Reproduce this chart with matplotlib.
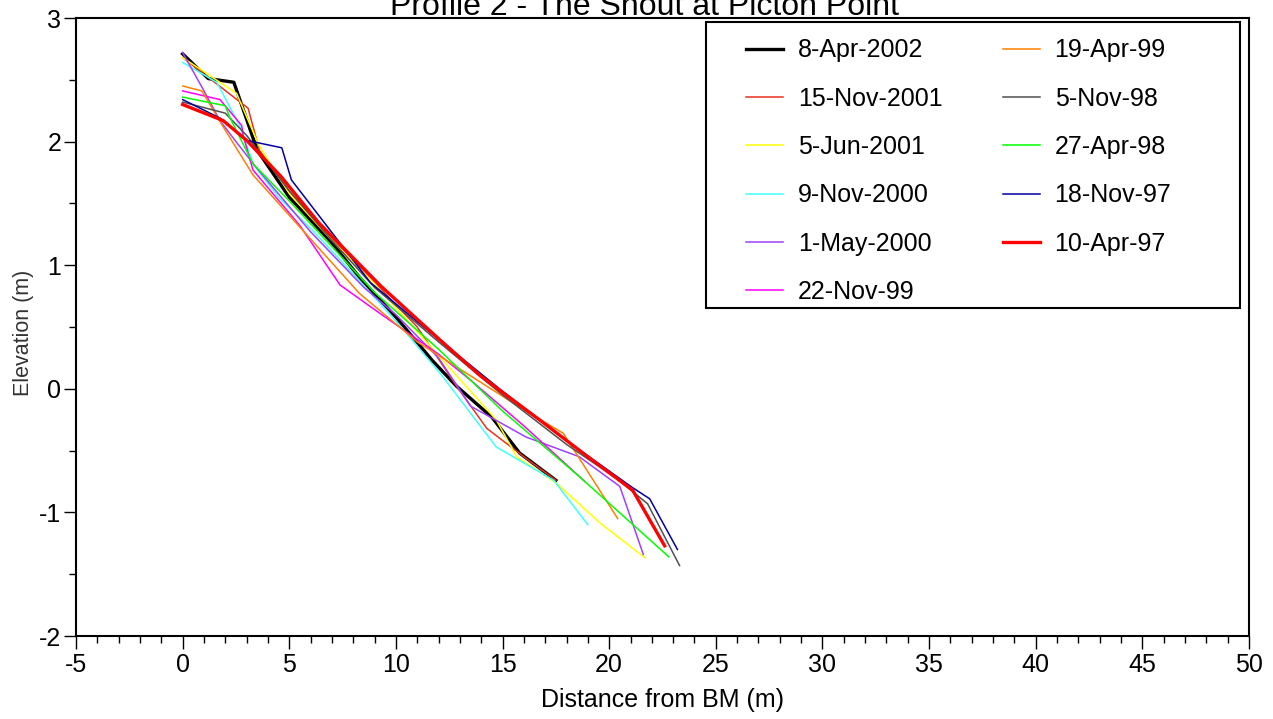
import numpy as np
import matplotlib
matplotlib.use("Agg")
import matplotlib.pyplot as plt
from matplotlib.ticker import MultipleLocator
from matplotlib.patches import Rectangle

plt.rcParams['font.family'] = ['Liberation Sans', 'DejaVu Sans']
plt.rcParams['axes.unicode_minus'] = False

# survey profiles: distance (m), elevation (m)
labels = ['8-Apr-2002', '15-Nov-2001', '5-Jun-2001', '9-Nov-2000', '1-May-2000',
          '22-Nov-99', '19-Apr-99', '5-Nov-98', '27-Apr-98', '18-Nov-97', '10-Apr-97']

x_apr02 = [0, 1.2, 2.4, 3.5, 5.0, 7.0, 8.3, 10.0, 11.7, 12.85, 14.5, 15.8, 17.5]
z_apr02 = [2.71, 2.51, 2.48, 1.93, 1.55, 1.18, 0.90, 0.58, 0.23, 0.02, -0.23, -0.52, -0.74]

x_nov01 = [0, 3.07, 3.6, 5.0, 7.0, 9.0, 11.0, 12.85, 14.26, 16.0, 17.5]
z_nov01 = [2.68, 2.27, 1.93, 1.60, 1.22, 0.86, 0.50, 0.02, -0.32, -0.55, -0.74]

x_jun01 = [0, 2.53, 3.6, 5.0, 7.0, 9.0, 12.2, 14.7, 15.66, 17.5, 19.6, 21.7]
z_jun01 = [2.68, 2.39, 1.96, 1.58, 1.20, 0.85, 0.23, -0.25, -0.55, -0.76, -1.09, -1.37]

x_nov00 = [0, 1.6, 2.7, 3.3, 4.5, 6.1, 8.0, 10.2, 12.1, 14.7, 17.4, 19.0]
z_nov00 = [2.64, 2.48, 2.12, 1.82, 1.55, 1.28, 0.93, 0.51, 0.12, -0.47, -0.74, -1.10]

x_may00 = [0, 0.97, 1.75, 2.5, 3.5, 6.0, 8.5, 10.0, 12.0, 13.5, 16.1, 18.6, 20.5, 21.6]
z_may00 = [2.72, 2.42, 2.17, 2.00, 1.78, 1.27, 0.82, 0.60, 0.25, -0.14, -0.39, -0.55, -0.79, -1.34]

x_nov99 = [0, 1.75, 2.77, 2.85, 3.3, 5.5, 7.38, 9.25, 12.0, 13.5, 16.0, 18.86]
z_nov99 = [2.41, 2.34, 2.13, 2.04, 1.77, 1.32, 0.84, 0.61, 0.28, 0.07, -0.30, -0.75]

x_apr99 = [0, 0.9, 1.9, 3.3, 8.3, 11.0, 14.0, 16.0, 17.85, 20.4]
z_apr99 = [2.45, 2.41, 2.12, 1.73, 0.77, 0.38, 0.05, -0.17, -0.36, -1.05]

x_nov98 = [0, 2.0, 3.0, 5.0, 7.0, 9.0, 12.0, 15.0, 18.0, 20.3, 21.8, 23.3]
z_nov98 = [2.32, 2.23, 2.05, 1.60, 1.20, 0.82, 0.38, -0.05, -0.45, -0.72, -0.93, -1.43]

x_apr98 = [0, 2.0, 2.2, 3.3, 5.0, 7.0, 9.0, 12.0, 15.0, 18.6, 22.8]
z_apr98 = [2.36, 2.29, 2.20, 1.82, 1.52, 1.15, 0.78, 0.32, -0.18, -0.71, -1.36]

x_nov97 = [0, 1.75, 3.0, 4.65, 5.1, 6.44, 8.8, 12.0, 15.0, 18.0, 21.1, 21.9, 23.2]
z_nov97 = [2.34, 2.19, 2.01, 1.95, 1.69, 1.39, 0.86, 0.40, -0.02, -0.42, -0.80, -0.89, -1.30]

x_apr97 = [0, 1.9, 3.0, 4.6, 6.4, 9.3, 12.1, 14.0, 16.8, 19.0, 21.1, 22.6]
z_apr97 = [2.30, 2.17, 2.01, 1.72, 1.34, 0.83, 0.39, 0.10, -0.26, -0.55, -0.82, -1.27]

xs = [x_apr02, x_nov01, x_jun01, x_nov00, x_may00, x_nov99, x_apr99, x_nov98, x_apr98, x_nov97, x_apr97]
zs = [z_apr02, z_nov01, z_jun01, z_nov00, z_may00, z_nov99, z_apr99, z_nov98, z_apr98, z_nov97, z_apr97]
colors = ['#000000', '#e8321e', '#ffff00', '#40ffff', '#a040ff', '#ff00ff',
          '#ff8000', '#505050', '#00ff00', '#0000a0', '#ff0000']
widths = [2.4, 1.1, 1.1, 1.1, 1.1, 1.1, 1.1, 1.1, 1.1, 1.1, 2.4]

W, H = 1273, 719
fig = plt.figure(figsize=(W/100, H/100), dpi=100)
ax = fig.add_axes([76/W, 1 - 636/H, (1249-76)/W, (636-18)/H])

for x, z, c, w, lab in zip(xs, zs, colors, widths, labels):
    ax.plot(x, z, color=c, lw=w, label=lab)

ax.set_xlim(-5, 50)
ax.set_ylim(-2, 3)
ax.xaxis.set_major_locator(MultipleLocator(5))
ax.xaxis.set_minor_locator(MultipleLocator(1))
ax.yaxis.set_major_locator(MultipleLocator(1))
ax.yaxis.set_minor_locator(MultipleLocator(0.5))
ax.tick_params(which='major', length=9, width=1, labelsize=18, colors='black', pad=3)
ax.tick_params(which='minor', length=5, width=1)
ax.tick_params(axis='y', which='major', pad=1.5)
for s in ax.spines.values():
    s.set_linewidth(1.5)

ax.set_xlabel('Distance from BM (m)', fontsize=18, labelpad=8)
ax.set_ylabel('Elevation (m)', fontsize=15.5, color='#333333')
ax.yaxis.set_label_coords(-0.036, 0.49)

fig.text(645/W, 1 - 15/H, 'Profile 2 - The Shout at Picton Point',
         ha='center', va='baseline', fontsize=23)

# legend box
box = Rectangle((706/W, 1 - 308/H), 534/W, 286/H, transform=fig.transFigure,
                facecolor='white', edgecolor='black', lw=1.5, zorder=4, clip_on=False)
ax.add_patch(box)

leg = ax.legend(ncol=2, loc='upper left', bbox_to_anchor=(746/W, 1 - 38.5/H),
                bbox_transform=fig.transFigure, fontsize=18, frameon=False,
                borderpad=0, borderaxespad=0, handlelength=1.48, handletextpad=0.6,
                columnspacing=2.4, labelspacing=0.97)
leg.set_zorder(5)

fig.savefig('out.png', dpi=100)
